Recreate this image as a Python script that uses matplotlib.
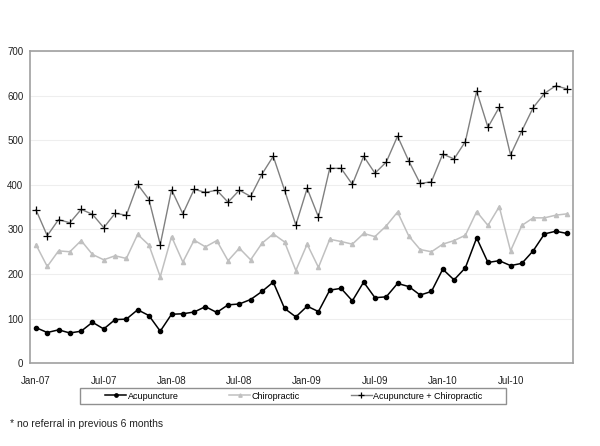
import numpy as np
import matplotlib.pyplot as plt
from matplotlib.patches import Rectangle

plt.rcParams['font.family'] = ['Liberation Sans', 'DejaVu Sans']

# monthly counts, Jan-07 .. Dec-10
months = ['Jan-07', 'Jul-07', 'Jan-08', 'Jul-08', 'Jan-09', 'Jul-09', 'Jan-10', 'Jul-10']
acupuncture = [80, 69, 75, 68, 72, 92, 77, 98, 99, 120, 107, 72,
               110, 111, 115, 127, 114, 131, 133, 143, 161, 182, 123, 104,
               128, 116, 164, 168, 140, 182, 147, 149, 179, 172, 153, 161,
               211, 187, 214, 281, 226, 230, 219, 224, 252, 290, 296, 291]
chiropractic = [266, 217, 252, 250, 275, 244, 232, 241, 235, 289, 265, 194,
                284, 227, 276, 261, 275, 230, 258, 232, 269, 290, 272, 208,
                267, 215, 278, 273, 267, 291, 284, 308, 339, 285, 255, 250,
                267, 275, 287, 340, 309, 351, 252, 309, 326, 326, 332, 335]
combined = [344, 286, 322, 315, 345, 334, 304, 336, 332, 401, 367, 266,
            389, 335, 390, 383, 388, 361, 388, 374, 424, 464, 388, 310,
            392, 328, 437, 437, 401, 464, 426, 451, 509, 453, 403, 407,
            469, 458, 497, 610, 529, 574, 467, 521, 573, 605, 622, 615]

x = np.arange(len(acupuncture))

fig = plt.figure(figsize=(6, 4.46), dpi=100)
ax = fig.add_axes([0.0505, 0.1854, 0.904, 0.7003])

ax.plot(x, acupuncture, color='black', linewidth=1.1, marker='o', markersize=3,
        label='Acupuncture')
ax.plot(x, chiropractic, color='#c0c0c0', linewidth=1.1, marker='^', markersize=3,
        label='Chiropractic')
ax.plot(x, combined, color='#808080', linewidth=1.0, marker='+', markersize=6,
        markeredgecolor='black', markeredgewidth=0.9, label='Acupuncture + Chiropractic')

ax.set_xlim(-0.5, len(x) - 0.5)
ax.set_ylim(0, 700)
ax.set_yticks(np.arange(0, 701, 100))
ax.set_xticks(np.arange(0, len(x), 6))
ax.set_xticklabels(months)
ax.tick_params(axis='both', length=0, labelsize=7, colors='#222222')
ax.tick_params(axis='x', pad=9)
ax.tick_params(axis='y', pad=5)

ax.grid(True, axis='y', color='#eeeeee', linewidth=0.8)
ax.set_axisbelow(True)
for s in ax.spines.values():
    s.set_color('#a0a0a0')
    s.set_linewidth(1.2)

# legend box drawn separately (Excel-style wide padding)
fig.patches.append(Rectangle((80 / 600, 1 - 404 / 446), 426 / 600, 16 / 446,
                             transform=fig.transFigure, fill=False,
                             edgecolor='#909090', linewidth=1.0))
leg = fig.legend(loc='center', bbox_to_anchor=(0.49, 0.112), ncol=3, fontsize=6.5,
                 frameon=False, handlelength=2.3, columnspacing=5.6,
                 handletextpad=0.2, borderpad=0.2)
for h in leg.legend_handles:
    h.set_markersize(h.get_markersize() * 0.8)

fig.text(0.017, 0.049, '* no referral in previous 6 months', fontsize=7.5,
         color='#222222', va='center')

fig.savefig('out.png', dpi=100)
